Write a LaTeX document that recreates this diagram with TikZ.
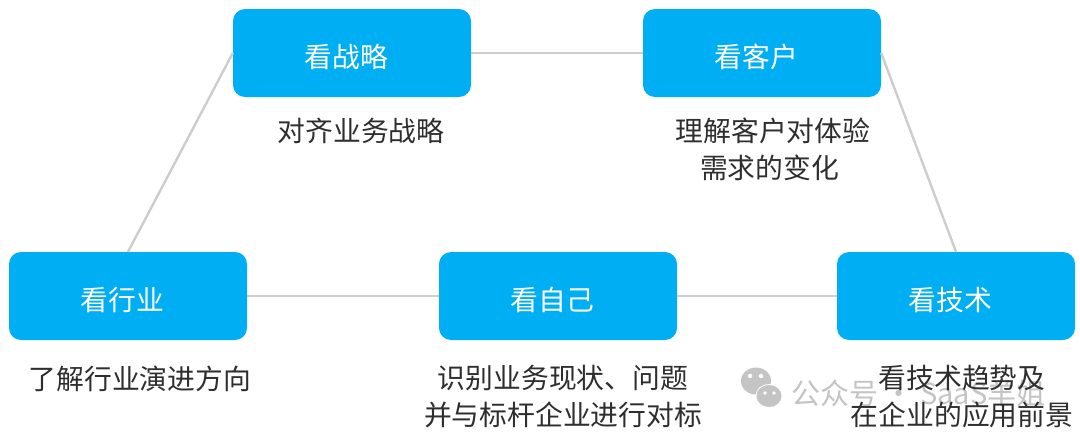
\documentclass[tikz,border=0pt]{standalone}
\usepackage{fontspec}
\setmainfont{Noto Sans CJK SC}
\begin{document}
\begin{tikzpicture}[x=1pt,y=-1pt,
  box/.style={draw=none,fill=boxblue,rounded corners=12pt,minimum width=238pt,minimum height=88pt,inner sep=0pt,text=white,text height=30pt,text depth=1.1pt,font=\fontsize{27.8pt}{32pt}\selectfont},
  captext/.style={align=center,inner sep=0pt,text=capgray,font=\fontsize{27.8pt}{37pt}\selectfont},
  link/.style={draw=linkgray,line width=2.4pt},
  wmark/.style={text=wmgray,inner sep=0pt,anchor=west,font=\fontsize{29pt}{32pt}\selectfont}]
\definecolor{boxblue}{HTML}{00AEF3}
\definecolor{capgray}{HTML}{2E2E2E}
\definecolor{linkgray}{HTML}{CDCDCD}
\definecolor{wmgray}{HTML}{C4C4C4}
\useasboundingbox (0,0) rectangle (1080,434);
\node[box] (s) at (352,53) {\hspace{-11pt}看战略};
\node[box] (k) at (762,53) {\hspace{-11pt}看客户};
\node[box] (h) at (128,296) {\hspace{-11pt}看行业};
\node[box] (z) at (558,296) {\hspace{-11pt}看自己};
\node[box] (j) at (956,296) {\hspace{-11pt}看技术};
\draw[link] (s.west) -- (h.north);
\draw[link] (s.east) -- (k.west);
\draw[link] (k.east) -- (j.north);
\draw[link] (h.east) -- (z.west);
\draw[link] (z.east) -- (j.west);
% watermark
\fill[wmgray] (756,381) ellipse (15pt and 13.5pt);
\draw[white,line width=1pt] (769,396) ellipse (13pt and 11.5pt);
\fill[wmgray] (769,396) ellipse (12.5pt and 11pt);
\fill[white] (750,376) circle (2.2pt) (761,376) circle (2.2pt) (765,393) circle (1.9pt) (774,393) circle (1.9pt);
\node[wmark] (w) at (791,393) {公众号 · SaaS羊姐};
% captions
\node[captext] (c1) at (361,131) {对齐业务战略};
\node[captext] (c2) at (773,149) {理解客户对体验\\需求的变化\hspace*{7pt}};
\node[captext] (c3) at (140,379) {了解行业演进方向};
\node[captext] (c4) at (563,397) {识别业务现状、问题\\并与标杆企业进行对标};
\node[captext] (c5) at (962,397) {看技术趋势及\\在企业的应用前景};
\end{tikzpicture}
\end{document}
